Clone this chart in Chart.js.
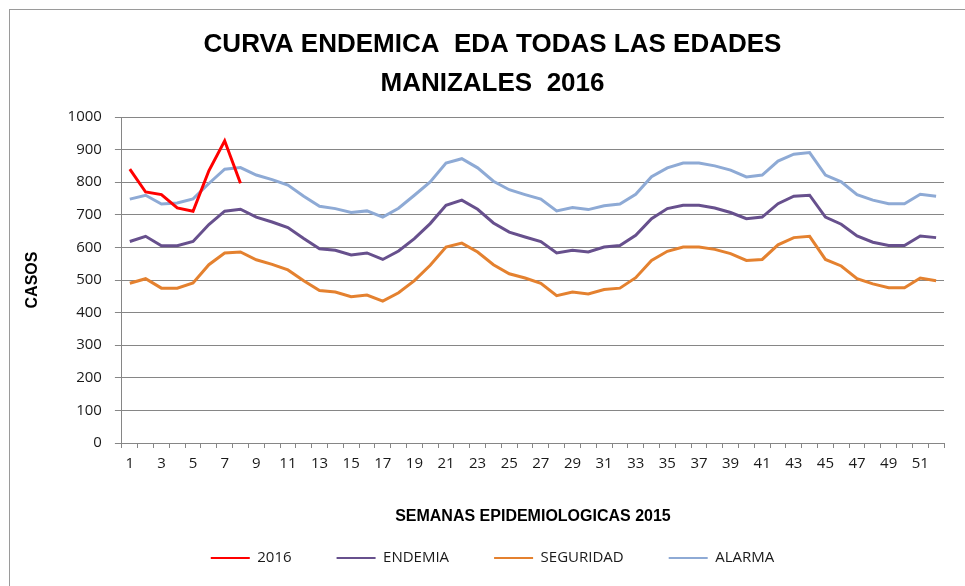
<!DOCTYPE html>
<html>
<head>
<meta charset="utf-8">
<script src="https://cdn.jsdelivr.net/npm/chart.js@4"></script>
<style>
  html, body { margin: 0; padding: 0; background: #fff; }
  #wrap { width: 965px; height: 586px; }
</style>
</head>
<body>
<div id="wrap"><canvas id="myChart" width="965" height="586"></canvas></div>
<script>
const semanas = ['1', '2', '3', '4', '5', '6', '7', '8', '9', '10', '11', '12', '13', '14', '15', '16', '17', '18',
    '19', '20', '21', '22', '23', '24', '25', '26', '27', '28', '29', '30', '31', '32', '33', '34', '35', '36',
    '37', '38', '39', '40', '41', '42', '43', '44', '45', '46', '47', '48', '49', '50', '51', '52'];

const casos2016 = [840, 770, 762, 721, 711, 835, 927, 797];

const endemia = [618, 634, 605, 605, 618, 670, 711, 717, 693, 678, 661, 627, 596, 591, 577, 583, 563,
    589, 627, 673, 729, 745, 717, 675, 647, 632, 618, 583, 591, 586, 601, 606, 637, 688,
    719, 729, 729, 721, 707, 688, 693, 734, 757, 760, 693, 671, 635, 616, 606, 606, 635, 630];

const seguridad = [490, 504, 475, 475, 491, 547, 583, 586, 562, 548, 531, 498, 468, 463, 449, 454, 435,
    461, 498, 545, 601, 613, 586, 547, 519, 506, 490, 452, 463, 457, 471, 475, 507, 560,
    588, 601, 601, 594, 581, 560, 563, 608, 630, 634, 563, 543, 504, 488, 476, 476, 506, 498];

const alarma = [748, 760, 733, 736, 749, 796, 840, 845, 822, 808, 791, 757, 726, 719, 707, 712, 693,
    720, 760, 801, 859, 872, 844, 803, 777, 762, 748, 712, 722, 716, 728, 733, 763, 817,
    844, 859, 859, 850, 837, 816, 822, 865, 886, 891, 822, 801, 762, 745, 734, 734, 763, 757];

const yTicks = [0, 100, 200, 300, 400, 500, 600, 700, 800, 900, 1000];

const gridGray = '#868686';
const textFont = 'Open Sans';
const boldFont = '"Liberation Sans", Arial, sans-serif';

// white background + chart frame (only left and top edges are inside the picture)
const frame = {
    id: 'frame',
    beforeDraw(chart) {
        const c = chart.ctx;
        c.save();
        c.fillStyle = '#fff';
        c.fillRect(0, 0, chart.width, chart.height);
        c.strokeStyle = '#9a9a9a';
        c.lineWidth = 1;
        c.strokeRect(9.5, 9.5, chart.width + 10, chart.height + 10);
        c.restore();
    }
};

const ctx = document.getElementById('myChart');

new Chart(ctx, {
    type: 'line',
    data: {
        labels: semanas,
        datasets: [
            { label: '2016', data: casos2016, borderColor: '#FF0000', backgroundColor: '#FF0000' },
            { label: 'ENDEMIA', data: endemia, borderColor: '#67508D', backgroundColor: '#67508D' },
            { label: 'SEGURIDAD', data: seguridad, borderColor: '#E4812F', backgroundColor: '#E4812F' },
            { label: 'ALARMA', data: alarma, borderColor: '#8EAAD5', backgroundColor: '#8EAAD5' }
        ]
    },
    options: {
        responsive: false,
        animation: false,
        devicePixelRatio: 1,
        layout: { padding: { left: 41, right: 21, top: 0, bottom: 10.5 } },
        elements: {
            line: { borderWidth: 3, tension: 0 },
            point: { radius: 0, hoverRadius: 0 }
        },
        plugins: {
            title: {
                display: true,
                text: ['CURVA ENDEMICA  EDA TODAS LAS EDADES', 'MANIZALES  2016'],
                color: '#000',
                font: { family: boldFont, size: 26, weight: 'bold', lineHeight: 1.5 },
                padding: { top: 25.5, bottom: 13.5 }
            },
            legend: {
                position: 'bottom',
                labels: {
                    color: '#1a1a1a',
                    font: { family: textFont, size: 15 },
                    boxWidth: 39,
                    boxHeight: 2,
                    padding: 45,
                    generateLabels(chart) {
                        return Chart.defaults.plugins.legend.labels.generateLabels(chart).map(item => {
                            item.fillStyle = item.strokeStyle;
                            item.lineWidth = 0;
                            return item;
                        });
                    }
                }
            },
            tooltip: { enabled: false }
        },
        scales: {
            x: {
                offset: true,
                grid: { offset: true, drawOnChartArea: false, drawTicks: true, tickLength: 5, color: gridGray },
                border: { color: gridGray },
                ticks: {
                    autoSkip: false,
                    maxRotation: 0,
                    padding: 7,
                    color: '#1a1a1a',
                    font: { family: textFont, size: 15 },
                    callback: (v, i) => (i % 2 === 0 ? semanas[i] : '')
                },
                title: {
                    display: true,
                    text: 'SEMANAS EPIDEMIOLOGICAS 2015',
                    color: '#000',
                    font: { family: boldFont, size: 16, weight: 'bold' },
                    padding: { top: 27.4, bottom: -21.1 }
                }
            },
            y: {
                min: 0,
                max: 1000,
                afterBuildTicks(scale) {
                    scale.ticks = yTicks.map(v => ({ value: v }));
                },
                grid: { color: gridGray, tickLength: 7 },
                border: { color: gridGray },
                ticks: {
                    padding: 13,
                    color: '#1a1a1a',
                    font: { family: textFont, size: 15 },
                    callback: v => String(v)
                },
                title: {
                    display: true,
                    text: 'CASOS',
                    color: '#000',
                    font: { family: boldFont, size: 16, weight: 'bold' },
                    padding: { top: -17.6, bottom: 12 }
                }
            }
        }
    },
    plugins: [frame]
});
</script>
</body>
</html>
